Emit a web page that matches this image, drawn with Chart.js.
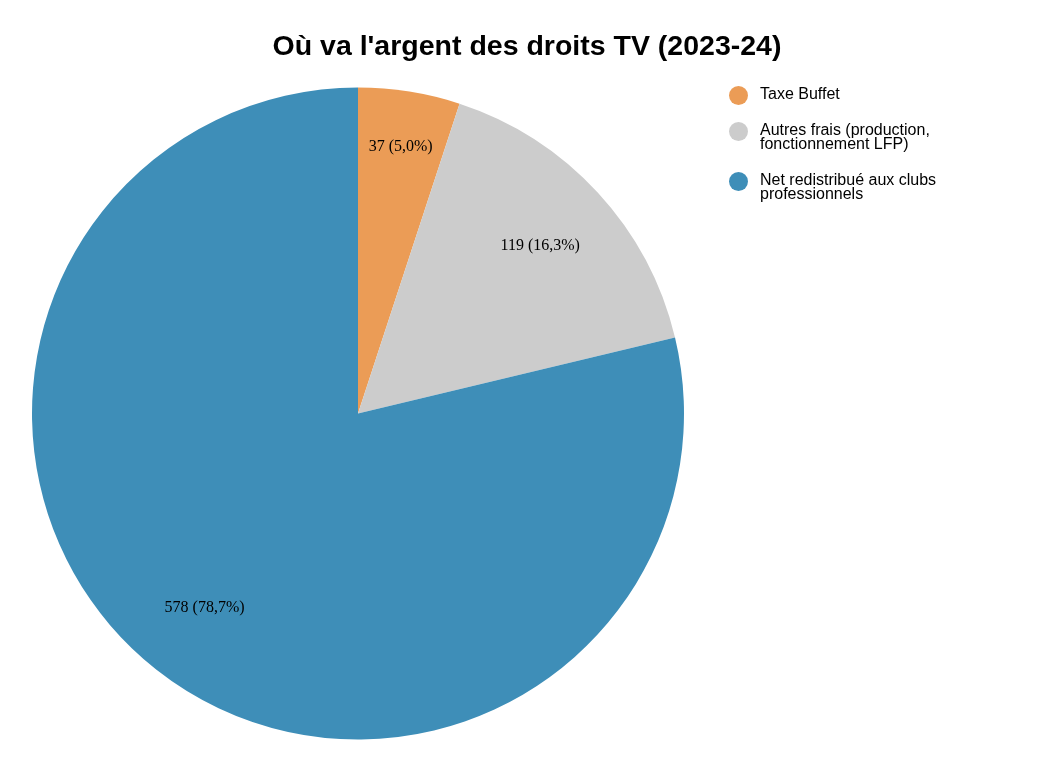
<!DOCTYPE html>
<html>
<head>
<meta charset="utf-8">
<script src="https://cdn.jsdelivr.net/npm/chart.js@4/dist/chart.umd.min.js"></script>
<style>
  html, body { margin: 0; padding: 0; background: #fff; }
  #wrap { position: relative; width: 1058px; height: 770px; }
  #title {
    position: absolute; left: 0; top: 29px; width: 1054px; text-align: center;
    font: bold 28.5px/32px "Liberation Sans", Arial, sans-serif; color: #000;
  }
  #legend { position: absolute; left: 729px; top: 87px; font: 16px "Liberation Sans", Arial, sans-serif; color: #000; }
  .item { position: relative; padding-left: 31px; line-height: 14.3px; margin-bottom: 21.5px; }
  .dot { position: absolute; left: 0; top: -1px; width: 19px; height: 19px; border-radius: 50%; }
</style>
</head>
<body>
<div id="wrap">
  <canvas id="chart" width="1058" height="770"></canvas>
  <div id="title">Où va l'argent des droits TV (2023-24)</div>
  <div id="legend"></div>
</div>
<script>
// Data
const categories = [
  ['Taxe Buffet'],
  ['Autres frais (production,', 'fonctionnement LFP)'],
  ['Net redistribué aux clubs', 'professionnels']
];
const amounts = [37, 119, 578];
const shares = [5.0, 16.3, 78.7];
const colors = ['#EB9C56', '#CCCCCC', '#3E8EB8'];

// legend
const legend = document.getElementById('legend');
categories.forEach((lines, i) => {
  const item = document.createElement('div');
  item.className = 'item';
  const dot = document.createElement('span');
  dot.className = 'dot';
  dot.style.background = colors[i];
  item.appendChild(dot);
  item.insertAdjacentHTML('beforeend', lines.join('<br>'));
  legend.appendChild(item);
});

// slice labels drawn from arc geometry
const labelDist = [0.83, 0.76, 0.76];
const sliceLabels = {
  id: 'sliceLabels',
  afterDatasetsDraw(chart) {
    const ctx = chart.ctx;
    const meta = chart.getDatasetMeta(0);
    ctx.save();
    ctx.font = '16px "Liberation Serif", "Times New Roman", serif';
    ctx.fillStyle = '#000';
    ctx.textAlign = 'center';
    ctx.textBaseline = 'middle';
    meta.data.forEach((arc, i) => {
      const p = arc.getProps(['x', 'y', 'startAngle', 'endAngle', 'outerRadius'], true);
      const mid = (p.startAngle + p.endAngle) / 2;
      const r = p.outerRadius * labelDist[i];
      const txt = amounts[i] + ' (' + shares[i].toFixed(1).replace('.', ',') + '%)';
      ctx.fillText(txt, p.x + Math.cos(mid) * r, p.y + Math.sin(mid) * r);
    });
    ctx.restore();
  }
};

new Chart(document.getElementById('chart'), {
  type: 'pie',
  data: {
    labels: categories.map(l => l.join(' ')),
    datasets: [{
      data: amounts,
      backgroundColor: colors,
      borderWidth: 0
    }]
  },
  options: {
    responsive: false,
    animation: false,
    events: [],
    layout: { padding: { left: 32, right: 374, top: 87, bottom: 30 } },
    plugins: {
      legend: { display: false },
      title: { display: false },
      tooltip: { enabled: false }
    }
  },
  plugins: [sliceLabels]
});
</script>
</body>
</html>
